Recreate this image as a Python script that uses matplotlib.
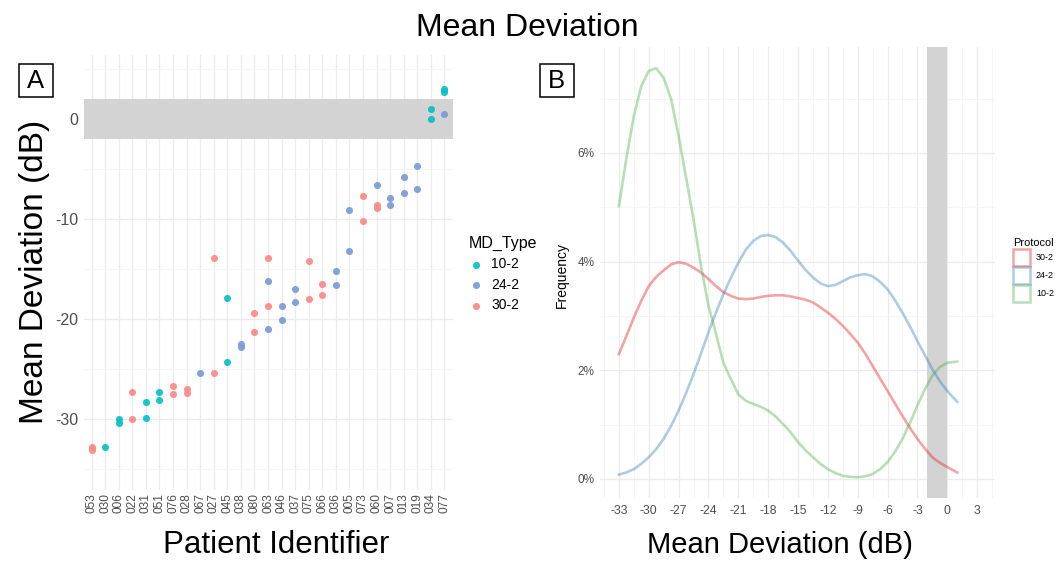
import matplotlib
matplotlib.use("Agg")
import matplotlib.pyplot as plt
from matplotlib.patches import Patch, Rectangle

plt.rcParams['font.family'] = ['Liberation Sans', 'DejaVu Sans']
plt.rcParams['axes.unicode_minus'] = False

# panel A: MD per patient
patients = ['053', '030', '006', '022', '031', '051', '076', '028', '067', '027',
            '045', '038', '080', '063', '046', '037', '075', '066', '036', '005',
            '073', '060', '007', '013', '019', '034', '077']

pid_10_2 = ['030', '006', '006', '031', '031', '051', '051', '045', '045', '034', '034', '077', '077']
md_10_2 = [-32.8, -30.0, -30.4, -28.3, -29.9, -27.3, -28.1, -17.9, -24.3, 1.0, 0.0, 3.0, 2.7]

pid_24_2 = ['067', '038', '038', '063', '063', '046', '046', '037', '037', '036', '036',
            '005', '005', '060', '007', '007', '013', '013', '019', '019', '077']
md_24_2 = [-25.4, -22.5, -22.8, -16.2, -21.0, -18.7, -20.1, -17.0, -18.3, -15.2, -16.6,
           -9.1, -13.2, -6.6, -7.9, -8.6, -5.8, -7.4, -4.7, -7.0, 0.5]

pid_30_2 = ['053', '053', '022', '022', '076', '076', '028', '028', '027', '027', '080', '080',
            '063', '063', '075', '075', '066', '066', '073', '073', '060', '060']
md_30_2 = [-32.8, -33.1, -27.3, -30.0, -26.7, -27.5, -27.0, -27.4, -13.9, -25.4, -19.4, -21.3,
           -13.9, -18.7, -14.2, -18.0, -16.5, -17.6, -7.7, -10.2, -8.6, -8.9]

# panel B: density curves (percent)
dens_x = [-33, -32.25, -31.5, -30.75, -30, -29.25, -28.5, -27.75, -27, -26.25, -25.5, -24.75,
          -24, -23.25, -22.5, -21.75, -21, -20.25, -19.5, -18.75, -18, -17.25, -16.5, -15.75,
          -15, -14.25, -13.5, -12.75, -12, -11.25, -10.5, -9.75, -9, -8.25, -7.5, -6.75,
          -6, -5.25, -4.5, -3.75, -3, -2.25, -1.5, -0.75, 0, 1]
dens_30_2 = [2.30, 2.63, 2.97, 3.28, 3.55, 3.72, 3.84, 3.95, 3.99, 3.96, 3.89, 3.80,
             3.68, 3.55, 3.44, 3.37, 3.32, 3.31, 3.32, 3.35, 3.37, 3.38, 3.38, 3.36,
             3.33, 3.30, 3.25, 3.16, 3.06, 2.95, 2.82, 2.67, 2.51, 2.31, 2.08, 1.85,
             1.62, 1.39, 1.16, 0.94, 0.74, 0.56, 0.40, 0.30, 0.22, 0.12]
dens_24_2 = [0.08, 0.12, 0.18, 0.28, 0.40, 0.55, 0.74, 0.98, 1.26, 1.58, 1.93, 2.31,
             2.70, 3.06, 3.40, 3.70, 3.98, 4.22, 4.38, 4.47, 4.49, 4.45, 4.35, 4.20,
             4.02, 3.85, 3.71, 3.60, 3.55, 3.57, 3.64, 3.71, 3.75, 3.77, 3.73, 3.63,
             3.49, 3.29, 3.06, 2.81, 2.54, 2.28, 2.02, 1.80, 1.62, 1.42]
dens_10_2 = [5.02, 5.90, 6.68, 7.23, 7.51, 7.56, 7.38, 6.99, 6.31, 5.55, 4.78, 3.92,
             3.19, 2.68, 2.14, 1.84, 1.56, 1.44, 1.38, 1.33, 1.26, 1.15, 1.01, 0.86,
             0.68, 0.53, 0.40, 0.28, 0.18, 0.11, 0.06, 0.04, 0.03, 0.05, 0.09, 0.18,
             0.31, 0.50, 0.74, 1.03, 1.35, 1.65, 1.90, 2.06, 2.14, 2.16]

W, H = 1058, 563
fig = plt.figure(figsize=(W / 100, H / 100), dpi=100)


def px_rect(left, top, right, bottom):
    return [left / W, 1 - bottom / H, (right - left) / W, (bottom - top) / H]


grid_major = '#EBEBEB'
grid_minor = '#F4F4F4'
tick_col = '#4D4D4D'

# ---------------- panel A
axA = fig.add_axes(px_rect(83.5, 55, 452.5, 490))
axA.set_axisbelow(True)
for s in axA.spines.values():
    s.set_visible(False)
axA.set_xlim(-0.6, len(patients) - 0.4)
axA.set_ylim(-37.1, 6.4)
axA.set_xticks(range(len(patients)))
axA.set_xticklabels(patients, rotation=90, fontsize=8.6, color=tick_col, va='top')
axA.set_yticks([0, -10, -20, -30])
axA.set_yticklabels(['0', '-10', '-20', '-30'], fontsize=11.5, color=tick_col)
axA.set_yticks([5, -5, -15, -25, -35], minor=True)
axA.tick_params(axis='both', which='both', length=0)
axA.tick_params(axis='x', pad=2.5)
axA.tick_params(axis='y', pad=4)
axA.grid(True, which='major', color=grid_major, lw=0.9)
axA.grid(True, which='minor', axis='y', color=grid_minor, lw=0.6)
axA.axhspan(-2, 2, color='#D3D3D3', lw=0, zorder=1)

idx = {p: i for i, p in enumerate(patients)}
col_10 = '#00BFC4'
col_24 = '#7C9DD6'
col_30 = '#F98C8A'
axA.scatter([idx[p] for p in pid_10_2], md_10_2, s=26, color=col_10, lw=0, alpha=0.9, zorder=3, label='10-2')
axA.scatter([idx[p] for p in pid_24_2], md_24_2, s=26, color=col_24, lw=0, alpha=0.95, zorder=3, label='24-2')
axA.scatter([idx[p] for p in pid_30_2], md_30_2, s=26, color=col_30, lw=0, alpha=0.95, zorder=3, label='30-2')

axA.set_xlabel('Patient Identifier', fontsize=22.5)
axA.xaxis.set_label_coords((276 - 83.5) / 369, (490 - 545) / 435)
axA.xaxis.label.set_va('center')
axA.set_ylabel('Mean Deviation (dB)', fontsize=24)
axA.yaxis.set_label_coords((35 - 83.5) / 369, (490 - 272) / 435)
axA.yaxis.label.set_va('center')

legA = axA.legend(title='MD_Type', loc='upper left', bbox_to_anchor=(469 / W, 1 - 235.5 / H),
                  bbox_transform=fig.transFigure, frameon=False, fontsize=10,
                  title_fontsize=11.5, borderpad=0, borderaxespad=0, handlelength=1.0,
                  handletextpad=0.6, labelspacing=0.47, alignment='left', scatterpoints=1)

# ---------------- panel B
axB = fig.add_axes(px_rect(600, 47, 995, 498))
axB.set_axisbelow(True)
for s in axB.spines.values():
    s.set_visible(False)
axB.set_xlim(-34.9, 4.8)
axB.set_ylim(-0.35, 7.95)
xt = list(range(-33, 4, 3))
axB.set_xticks(xt)
axB.set_xticklabels([str(v) for v in xt], fontsize=8.8, color=tick_col)
axB.set_xticks([v + 1.5 for v in range(-36, 4, 3)], minor=True)
axB.set_yticks([0, 2, 4, 6])
axB.set_yticklabels(['0%', '2%', '4%', '6%'], fontsize=8.5, color=tick_col)
axB.set_yticks([1, 3, 5, 7], minor=True)
axB.tick_params(axis='both', which='both', length=0)
axB.tick_params(axis='x', pad=5)
axB.tick_params(axis='y', pad=4)
axB.grid(True, which='major', color=grid_major, lw=0.9)
axB.grid(True, which='minor', color=grid_minor, lw=0.6)
axB.axvspan(-2, 0, color='#D3D3D3', lw=0, zorder=1)

lc_30 = '#E41A1C'
lc_24 = '#377EB8'
lc_10 = '#4DAF4A'
la = 0.4
axB.plot(dens_x, dens_30_2, color=lc_30, alpha=la, lw=1.9, zorder=3)
axB.plot(dens_x, dens_24_2, color=lc_24, alpha=la, lw=1.9, zorder=3)
axB.plot(dens_x, dens_10_2, color=lc_10, alpha=la, lw=1.9, zorder=3)

axB.set_xlabel('Mean Deviation (dB)', fontsize=21)
axB.xaxis.set_label_coords((780 - 600) / 395, (498 - 545) / 451)
axB.xaxis.label.set_va('center')
axB.set_ylabel('Frequency', fontsize=10)
axB.yaxis.set_label_coords((561.7 - 600) / 395, (498 - 275) / 451)
axB.yaxis.label.set_va('center')

handles = [Patch(facecolor='white', edgecolor=matplotlib.colors.to_rgba(c, la), lw=1.8)
           for c in (lc_30, lc_24, lc_10)]
legB = axB.legend(handles, ['30-2', '24-2', '10-2'], title='Protocol', loc='upper left',
                  bbox_to_anchor=(1013 / W, 1 - 238 / H), bbox_transform=fig.transFigure,
                  frameon=False, fontsize=6.5, title_fontsize=7.9, borderpad=0,
                  borderaxespad=0, handlelength=1.85, handleheight=2.55, handletextpad=0.7,
                  labelspacing=0.1, alignment='left')

# ---------------- title and panel tags
fig.text(527 / W, 1 - 28 / H, 'Mean Deviation', ha='center', va='center', fontsize=23)
for tag, x0 in (('A', 18.5), ('B', 539.5)):
    fig.add_artist(Rectangle((x0 / W, 1 - 96.5 / H), 34 / W, 32.5 / H, transform=fig.transFigure,
                             fc='white', ec='black', lw=1.1))
    fig.text((x0 + 17) / W, 1 - 80.5 / H, tag, ha='center', va='center', fontsize=18.5)

fig.savefig('out.png', dpi=100)
